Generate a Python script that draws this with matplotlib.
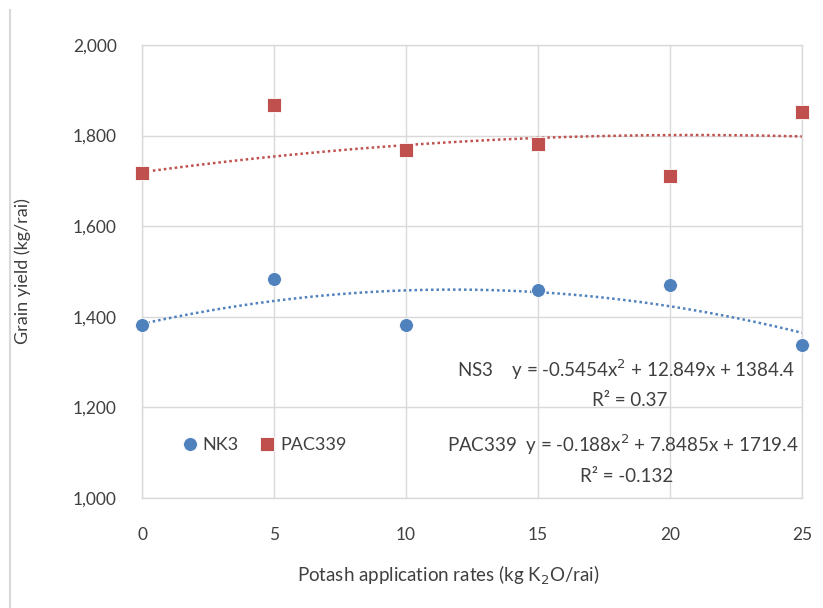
import matplotlib
matplotlib.use("Agg")
import matplotlib.pyplot as plt
from matplotlib.lines import Line2D
import numpy as np

plt.rcParams['font.family'] = ['Lato', 'DejaVu Sans']

rates = [0, 5, 10, 15, 20, 25]
nk3 = [1382, 1483, 1382, 1459, 1470, 1338]
pac339 = [1717, 1868, 1768, 1781, 1711, 1852]
nk3_coef = [-0.5454, 12.849, 1384.4]
pac_coef = [-0.188, 7.8485, 1719.4]
yticks = [1000, 1200, 1400, 1600, 1800, 2000]
xticks = [0, 5, 10, 15, 20, 25]

blue = '#4F81BD'
red = '#C0504D'
txt = '#404040'
grid = '#D9D9D9'

fig = plt.figure(figsize=(8.23, 6.08), dpi=100)
ax = fig.add_axes([142/823, 1-498/608, (802-142)/823, (498-45)/608])

xs = np.linspace(0, 25, 200)
ax.plot(xs, np.polyval(nk3_coef, xs), linestyle=(0, (1, 1.2)), color=blue, lw=1.8, zorder=2)
ax.plot(xs, np.polyval(pac_coef, xs), linestyle=(0, (1, 1.2)), color=red, lw=1.8, zorder=2)
ax.plot(rates, nk3, 'o', color=blue, ms=10, mec='white', mew=0.6, zorder=3, label='NK3', clip_on=False)
ax.plot(rates, pac339, 's', color=red, ms=10, mec='white', mew=0.6, zorder=3, label='PAC339', clip_on=False)

ax.set_xlim(0, 25)
ax.set_ylim(1000, 2000)
ax.set_xticks(xticks)
ax.set_yticks(yticks)
ax.set_yticklabels([f"{v:,}" for v in yticks])
ax.grid(True, color=grid, lw=1)
ax.set_axisbelow(True)
for s in ax.spines.values():
    s.set_color(grid)
    s.set_linewidth(1)
ax.tick_params(length=0, labelsize=12.5, colors=txt)
ax.tick_params(axis='y', pad=18)
ax.tick_params(axis='x', pad=21)

ax.set_ylabel("Grain yield (kg/rai)", fontsize=13, color=txt, labelpad=30)
fig.text(448/823, 1-575/608, "Potash application rates (kg K$_2$O/rai)", fontsize=13.5,
         color=txt, ha='center', va='center')

leg = ax.legend(loc='upper left', bbox_to_anchor=(0.045, 0.15), frameon=False, ncol=2,
                fontsize=13, handletextpad=0.1, columnspacing=1.0, borderaxespad=0,
                handlelength=1.2, labelcolor=txt)

texts = [
    (795, 370, "NS3    y = -0.5454x$^2$ + 12.849x + 1384.4", 'right'),
    (630, 401, "R² = 0.37", 'center'),
    (799, 445, "PAC339  y = -0.188x$^2$ + 7.8485x + 1719.4", 'right'),
    (627, 477, "R² = -0.132", 'center'),
]
for x, y, s, ha in texts:
    fig.text(x/823, 1-y/608, s, fontsize=13.5, color=txt, ha=ha, va='center')

fig.add_artist(Line2D([10/823, 10/823], [0, 1-10/608], color='#D9D9D9', lw=1.5))

fig.savefig("out.png", dpi=100)
